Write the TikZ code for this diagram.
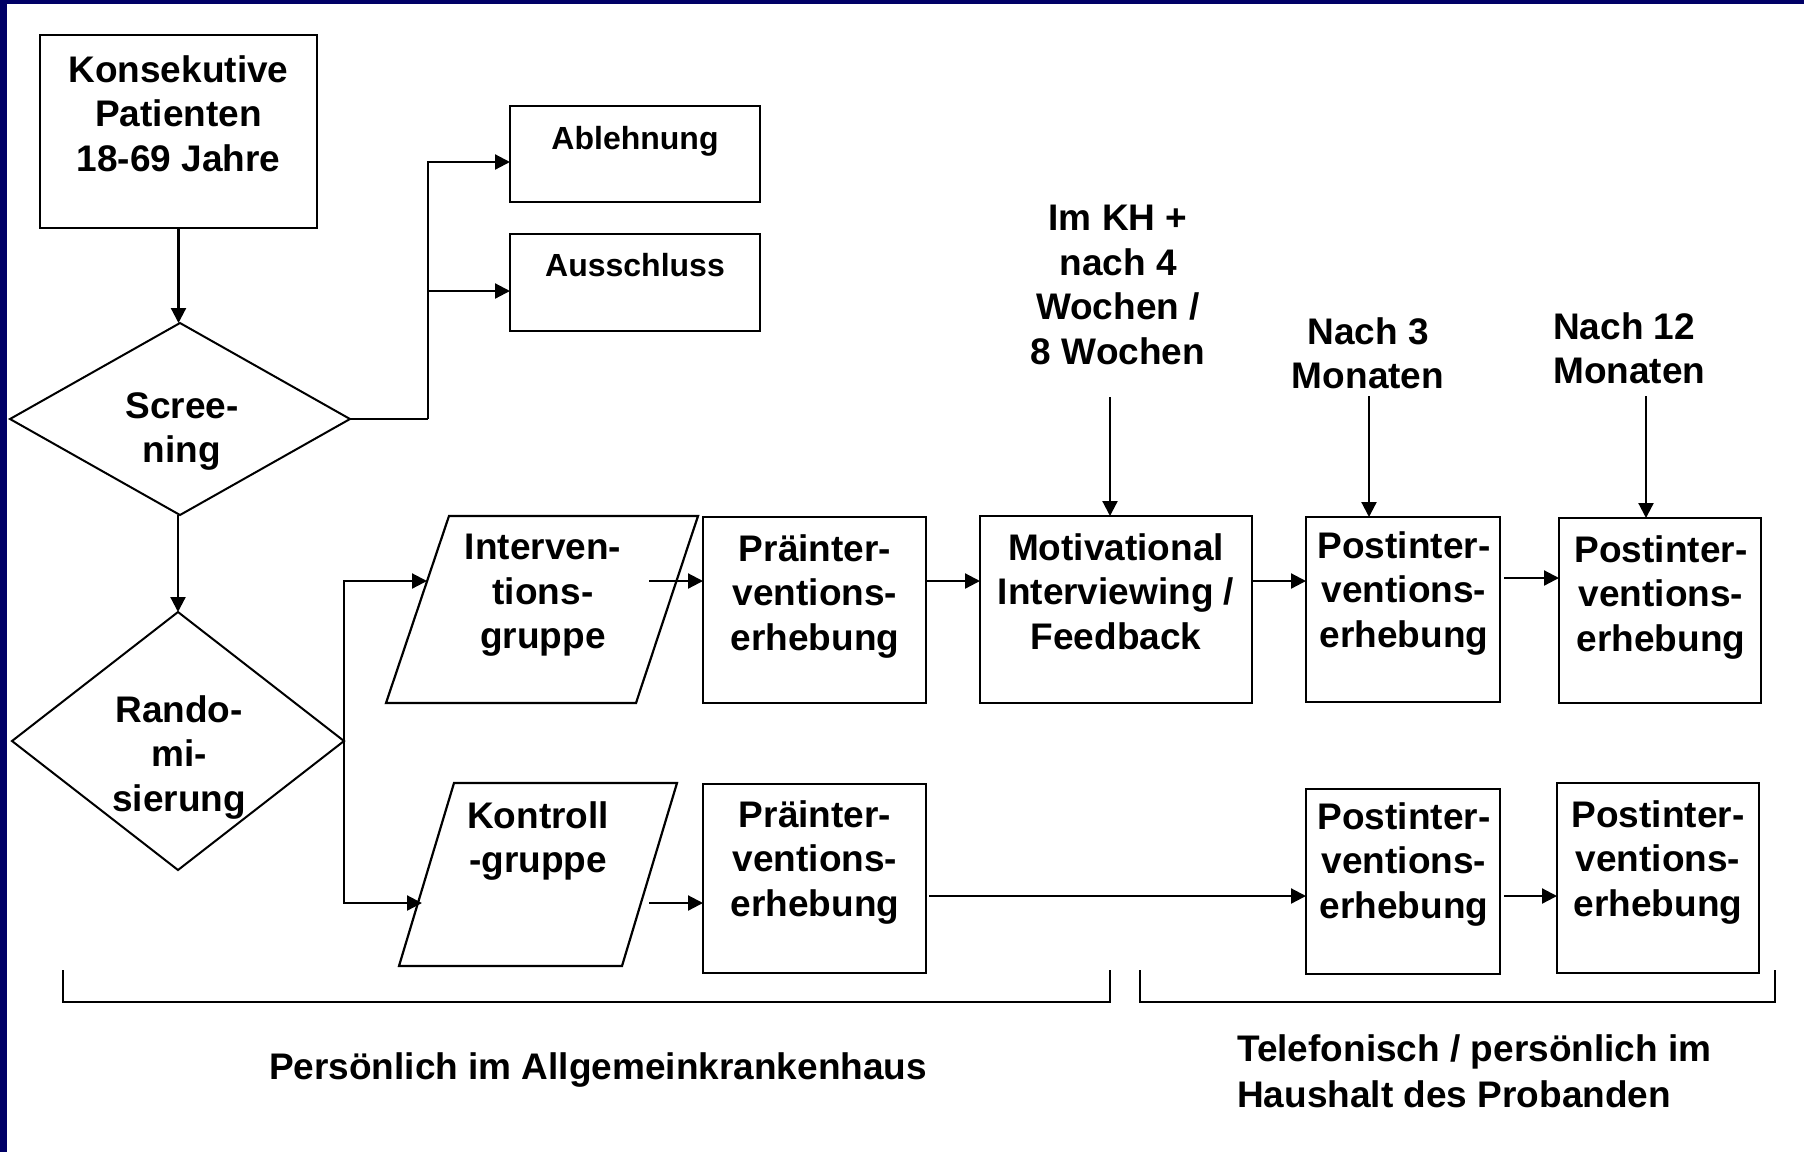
\documentclass[tikz,border=0pt]{standalone}
\usepackage{fontspec}
\setmainfont{Liberation Sans}
\usetikzlibrary{arrows.meta,shapes.geometric}
\definecolor{navyb}{RGB}{0,0,102}
\begin{document}
\begin{tikzpicture}[x=1pt,y=-1pt,
  box/.style={draw, rectangle, inner sep=0pt, outer sep=0pt, line width=2.2pt},
  dia/.style={draw, diamond, inner sep=0pt, outer sep=0pt, line width=2pt},
  txt/.style={font=\bfseries\fontsize{37}{44.5}\selectfont, align=center, inner sep=0pt, anchor=north},
  stxt/.style={font=\bfseries\fontsize{32}{38}\selectfont, align=center, inner sep=0pt, anchor=north},
  arr/.style={-{Triangle[length=15pt,width=15pt]}, line width=2.2pt},
  con/.style={line width=2.2pt}]
\useasboundingbox (0,0) rectangle (1804,1152);
\fill[white] (0,0) rectangle (1804,1152);
\fill[navyb] (0,0) rectangle (1804,4);
\fill[navyb] (0,0) rectangle (7,1152);

% start box
\node[box, minimum width=277pt, minimum height=193pt] (kp) at (178.5,131.5) {};
\node[txt] (kpt) at (178.5,55) {Konsekutive\\Patienten\\18-69 Jahre};

% rejection boxes
\node[box, minimum width=250pt, minimum height=96pt] (abl) at (635,154) {};
\node[stxt] (ablt) at (635,126.5) {Ablehnung};
\node[box, minimum width=250pt, minimum height=97pt] (aus) at (635,282.5) {};
\node[stxt] (aust) at (635,253) {Ausschluss};

% diamonds
\node[dia, minimum width=340pt, minimum height=192pt] (scr) at (180,419) {};
\node[txt] (scrt) at (182,392) {Scree-\\ning};
\node[dia, minimum width=332pt, minimum height=258pt] (rnd) at (178,741) {};
\node[txt] (rndt) at (179,695) {Rando-\\mi-\\sierung};

% parallelograms
\draw[con] (449,516) -- (698,516) -- (636,703) -- (386,703) -- cycle;
\node[txt] (igt) at (543,534) {Interven-\\tions-\\gruppe};
\draw[con] (454,783) -- (677,783) -- (622,966) -- (399,966) -- cycle;
\node[txt] (kgt) at (538,801) {Kontroll\\-gruppe};
\coordinate (igin) at (427,581);
\coordinate (igout) at (649,581);
\coordinate (kgin) at (422,903);
\coordinate (kgout) at (649,903);

% upper row
\node[box, minimum width=223pt, minimum height=186pt] (pu) at (814.5,610) {};
\node[txt] (put) at (815,534) {Präinter-\\ventions-\\erhebung};
\node[box, minimum width=272pt, minimum height=187pt] (mot) at (1116,609.5) {};
\node[txt] (mott) at (1116,533) {Motivational\\Interviewing /\\Feedback};
\node[box, minimum width=194pt, minimum height=185pt] (p1u) at (1403,609.5) {};
\node[txt] (p1ut) at (1404,531) {Postinter-\\ventions-\\erhebung};
\node[box, minimum width=202pt, minimum height=185pt] (p2u) at (1660,610.5) {};
\node[txt] (p2ut) at (1661,535) {Postinter-\\ventions-\\erhebung};

% lower row
\node[box, minimum width=223pt, minimum height=189pt] (pl) at (814.5,878.5) {};
\node[txt] (plt) at (815,800) {Präinter-\\ventions-\\erhebung};
\node[box, minimum width=194pt, minimum height=185pt] (p1l) at (1403,881.5) {};
\node[txt] (p1lt) at (1404,802) {Postinter-\\ventions-\\erhebung};
\node[box, minimum width=202pt, minimum height=190pt] (p2l) at (1658,878) {};
\node[txt] (p2lt) at (1658,800) {Postinter-\\ventions-\\erhebung};

% time labels
\node[txt] (l1) at (1118,205) {Im KH +\\nach 4\\Wochen /\\8 Wochen};
\node[txt] (l2) at (1368,317) {Nach 3\\Monaten};
\node[txt, align=left, anchor=north west] (l3) at (1553,312) {Nach 12\\Monaten};
\coordinate (a1) at (1110,397);
\coordinate (a2) at (1369,396);
\coordinate (a3) at (1646,396);

% bottom labels
\node[txt] (b1) at (598,1052) {Persönlich im Allgemeinkrankenhaus};
\node[txt, font=\bfseries\fontsize{37}{46}\selectfont, align=left, anchor=north west] (b2) at (1237,1034) {Telefonisch / persönlich im\\Haushalt des Probanden};

% helper coordinates
\coordinate (sj) at (428,419);
\coordinate (yr1) at (0,578);
\coordinate (yr2) at (0,896);
\coordinate (bl1) at (63,970);
\coordinate (bl2) at (1110,970);
\coordinate (br1) at (1140,970);
\coordinate (br2) at (1775,970);

% connectors
\draw[arr] (kp.south) -- (kp.south |- scr.north);
\draw[arr] (rnd.north |- scr.south) -- (rnd.north);
\draw[con] (scr.east) -- (sj);
\draw[arr] (sj) |- ([yshift=-8pt]abl.west);
\draw[arr] (sj) |- ([yshift=-8.5pt]aus.west);
\draw[arr] (rnd.east) |- (igin);
\draw[arr] (rnd.east) |- (kgin);
\draw[arr] (igout) -- (igout -| pu.west);
\draw[arr] (pu.east |- igout) -- (mot.west |- igout);
\draw[arr] (mot.east |- igout) -- (p1u.west |- igout);
\draw[arr] ([xshift=4pt]p1u.east |- yr1) -- (p2u.west |- yr1);
\draw[arr] (kgout) -- (kgout -| pl.west);
\draw[arr] ([xshift=3pt]pl.east |- yr2) -- (p1l.west |- yr2);
\draw[arr] ([xshift=4pt]p1l.east |- yr2) -- (p2l.west |- yr2);
\draw[arr] (a1) -- (a1 |- mot.north);
\draw[arr] (a2) -- (a2 |- p1u.north);
\draw[arr] (a3) -- (a3 |- p2u.north);

% brackets
\draw[con] (bl1) -- ++(0,32) -| (bl2);
\draw[con] (br1) -- ++(0,32) -| (br2);
\end{tikzpicture}
\end{document}
